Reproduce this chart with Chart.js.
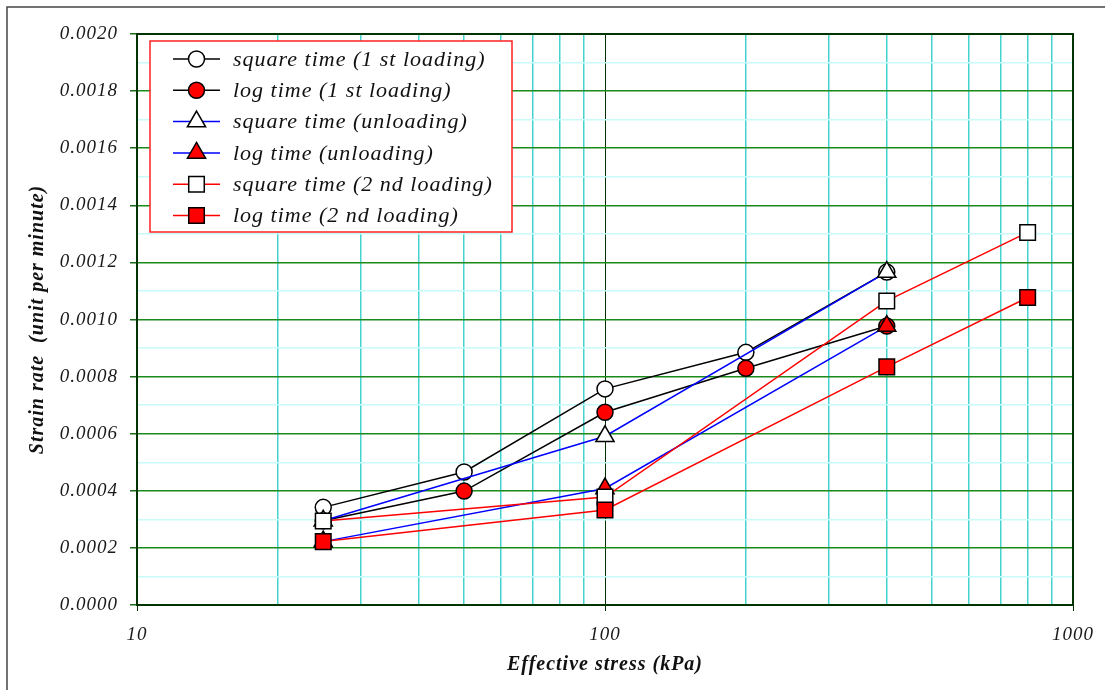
<!DOCTYPE html>
<html>
<head>
<meta charset="utf-8">
<title>Strain rate vs effective stress</title>
<script src="https://cdn.jsdelivr.net/npm/chart.js"></script>
<style>
  body { margin: 0; background: #fff; }
  canvas { display: block; }
</style>
</head>
<body>
<canvas id="grafico" width="1105" height="690"></canvas>
<script>

// effective stress (kPa) de cada etapa
const carga1 = [25, 50, 100, 200, 400];
const descarga = [400, 100, 25];
const carga2 = [25, 100, 400, 800];

// strain rate (unit per minute)
const raizCarga1 = [0.000342, 0.000466, 0.000757, 0.000885, 0.001166];
const logCarga1 = [0.000295, 0.000399, 0.000675, 0.000829, 0.000977];
const raizDescarga = [0.001166, 0.000591, 0.000295];
const logDescarga = [0.000977, 0.000408, 0.000222];
const raizCarga2 = [0.000294, 0.000378, 0.001065, 0.001305];
const logCarga2 = [0.000222, 0.000333, 0.000834, 0.001077];

const nombres = ['square time (1 st loading)', 'log time (1 st loading)', 'square time (unloading)',
    'log time (unloading)', 'square time (2 nd loading)', 'log time (2 nd loading)'];

const ticksX = [10, 20, 30, 40, 50, 60, 70, 80, 90, 100, 200, 300, 400, 500, 600, 700, 800, 900, 1000];
const ticksY = [0, 0.0001, 0.0002, 0.0003, 0.0004, 0.0005, 0.0006, 0.0007, 0.0008, 0.0009, 0.0010,
    0.0011, 0.0012, 0.0013, 0.0014, 0.0015, 0.0016, 0.0017, 0.0018, 0.0019, 0.0020];

const puntos = (xs, ys) => xs.map((x, i) => ({x: x, y: ys[i]}));
const esDecada = (v) => Math.abs(Math.log10(v) - Math.round(Math.log10(v))) < 1e-9;
const esMayor = (v) => Math.round(v * 10000) % 2 === 0;

const fuente = 'Liberation Serif, Times New Roman, serif';

function serie(i, xs, ys, color, estilo, relleno, radio) {
    return {
        label: nombres[i],
        data: puntos(xs, ys),
        borderColor: color,
        backgroundColor: color,
        borderWidth: 1.5,
        pointStyle: estilo,
        pointRadius: radio,
        pointBackgroundColor: relleno,
        pointBorderColor: '#000',
        pointBorderWidth: 1.5,
        tension: 0,
        order: 6 - i
    };
}

const fondo = {
    id: 'fondo',
    beforeDraw(chart) {
        const ctx = chart.ctx;
        ctx.save();
        ctx.fillStyle = '#fff';
        ctx.fillRect(0, 0, chart.width, chart.height);
        ctx.strokeStyle = '#444';
        ctx.lineWidth = 1.5;
        ctx.beginPath();
        ctx.moveTo(7, chart.height);
        ctx.lineTo(7, 7);
        ctx.lineTo(chart.width, 7);
        ctx.stroke();
        ctx.restore();
        ctx.letterSpacing = '1px';
    },
    beforeDatasetsDraw(chart) {
        const a = chart.chartArea;
        const ctx = chart.ctx;
        ctx.save();
        ctx.strokeStyle = '#003300';
        ctx.lineWidth = 2;
        ctx.strokeRect(a.left, a.top, a.right - a.left, a.bottom - a.top);
        ctx.restore();
    }
};

const leyenda = {
    id: 'leyenda',
    afterDatasetsDraw(chart) {
        const ctx = chart.ctx;
        ctx.save();
        ctx.fillStyle = '#fff';
        ctx.fillRect(150, 41, 362, 191);
        ctx.strokeStyle = '#ff2020';
        ctx.lineWidth = 1.5;
        ctx.strokeRect(150, 41, 362, 191);
        chart.data.datasets.forEach((ds, i) => {
            let y = 59 + i * 31.3;
            ctx.strokeStyle = ds.borderColor;
            ctx.lineWidth = 1.5;
            ctx.beginPath();
            ctx.moveTo(173, y);
            ctx.lineTo(220, y);
            ctx.stroke();
            ctx.fillStyle = ds.pointBackgroundColor;
            ctx.strokeStyle = '#000';
            Chart.helpers.drawPoint(ctx, {pointStyle: ds.pointStyle, radius: ds.pointRadius,
                borderWidth: 1.5, rotation: 0}, 196.5, y);
            ctx.fillStyle = '#111';
            ctx.font = 'italic 22px ' + fuente;
            ctx.textBaseline = 'middle';
            ctx.fillText(ds.label, 233, y + 1);
        });
        ctx.restore();
    }
};

let lienzo = document.getElementById('grafico').getContext('2d');

let grafico = new Chart(lienzo, {
    type: 'line',
    data: {
        datasets: [
            serie(0, carga1, raizCarga1, '#000000', 'circle', '#ffffff', 8),
            serie(1, carga1, logCarga1, '#000000', 'circle', '#ff0000', 8),
            serie(2, descarga, raizDescarga, '#0000ff', 'triangle', '#ffffff', 10.5),
            serie(3, descarga, logDescarga, '#0000ff', 'triangle', '#ff0000', 10.5),
            serie(4, carga2, raizCarga2, '#ff0000', 'rect', '#ffffff', 11),
            serie(5, carga2, logCarga2, '#ff0000', 'rect', '#ff0000', 11)
        ]
    },
    options: {
        responsive: false,
        animation: false,
        devicePixelRatio: 1,
        layout: { padding: { top: 34, right: 30, left: 0, bottom: 0 } },
        plugins: {
            legend: { display: false },
            tooltip: { enabled: false }
        },
        scales: {
            x: {
                type: 'logarithmic',
                min: 10,
                max: 1000,
                afterBuildTicks: (escala) => { escala.ticks = ticksX.map(v => ({value: v})); },
                afterFit: (escala) => { escala.height = 85; },
                ticks: {
                    autoSkip: false,
                    maxRotation: 0,
                    padding: 13,
                    color: '#1a1a1a',
                    font: { family: fuente, size: 19, style: 'italic' },
                    callback: (v) => esDecada(v) ? String(v) : ''
                },
                grid: {
                    color: (c) => esDecada(c.tick.value) ? '#003300' : '#45d3d0',
                    lineWidth: (c) => esDecada(c.tick.value) ? 1 : 1.5,
                    tickLength: 6,
                    tickColor: (c) => esDecada(c.tick.value) ? '#003300' : 'rgba(0,0,0,0)'
                },
                border: { display: false },
                title: {
                    display: true,
                    text: 'Effective stress (kPa)',
                    color: '#111',
                    font: { family: fuente, size: 20, style: 'italic', weight: 'bold' },
                    padding: { top: 0, bottom: 13 }
                }
            },
            y: {
                min: 0,
                max: 0.002,
                afterBuildTicks: (escala) => { escala.ticks = ticksY.map(v => ({value: v})); },
                afterFit: (escala) => { escala.width = 137; },
                ticks: {
                    autoSkip: false,
                    padding: 12,
                    color: '#1a1a1a',
                    font: { family: fuente, size: 19, style: 'italic' },
                    callback: (v) => esMayor(v) ? v.toFixed(4) : ''
                },
                grid: {
                    color: (c) => esMayor(c.tick.value) ? '#1a8a1a' : '#c8fafa',
                    lineWidth: 1.5,
                    tickLength: 7,
                    tickColor: (c) => esMayor(c.tick.value) ? '#1a6a1a' : 'rgba(0,0,0,0)'
                },
                border: { display: false },
                title: {
                    display: true,
                    text: 'Strain rate  (unit per minute)',
                    color: '#111',
                    font: { family: fuente, size: 20, style: 'italic', weight: 'bold' },
                    padding: { top: 26, bottom: 0 }
                }
            }
        }
    },
    plugins: [fondo, leyenda]
});

</script>
</body>
</html>
